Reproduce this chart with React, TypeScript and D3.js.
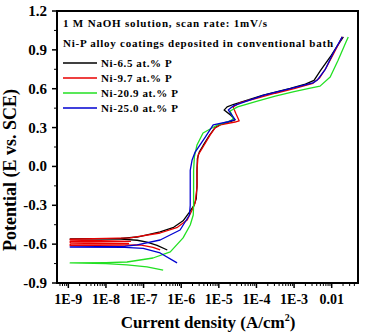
import React from "react";
import * as d3 from "d3";

// [log10(current density A/cm2), potential V vs SCE]
const ni65: [number, number][] = [
  [-6.37, -0.645], [-6.64, -0.61], [-6.91, -0.585], [-7.17, -0.57], [-7.6, -0.562], [-8.95, -0.56],
  [-7.6, -0.556], [-7.17, -0.545], [-6.56, -0.506], [-6.2, -0.47], [-5.95, -0.42], [-5.8, -0.36],
  [-5.66, -0.3], [-5.6, -0.25], [-5.58, -0.15], [-5.58, -0.03], [-5.57, 0.06], [-5.52, 0.11],
  [-5.42, 0.16], [-5.25, 0.24], [-5.1, 0.3], [-4.95, 0.325], [-4.7, 0.345], [-4.57, 0.36],
  [-4.7, 0.4], [-4.86, 0.435], [-4.78, 0.46], [-4.6, 0.48], [-4.2, 0.515], [-3.82, 0.551],
  [-3.1, 0.603], [-2.7, 0.635], [-2.47, 0.665], [-2.3, 0.74], [-2.04, 0.845], [-1.85, 0.93], [-1.69, 1.0],
];
const ni97: [number, number][] = [
  [-6.56, -0.645], [-6.75, -0.625], [-7.09, -0.606], [-7.5, -0.608], [-8.95, -0.612], [-8.95, -0.6],
  [-7.4, -0.595], [-8.95, -0.588], [-8.95, -0.578], [-7.35, -0.578], [-8.95, -0.568], [-8.95, -0.562],
  [-7.36, -0.552], [-6.56, -0.514], [-6.1, -0.47], [-5.84, -0.413], [-5.71, -0.336], [-5.63, -0.282],
  [-5.58, -0.159], [-5.58, -0.027], [-5.55, 0.088], [-5.42, 0.15], [-5.23, 0.243], [-5.1, 0.297],
  [-4.96, 0.32], [-4.57, 0.343], [-4.46, 0.352], [-4.55, 0.41], [-4.62, 0.459], [-4.45, 0.49],
  [-4.0, 0.525], [-3.5, 0.565], [-3.0, 0.6], [-2.5, 0.642], [-2.33, 0.68], [-2.15, 0.76],
  [-1.95, 0.87], [-1.72, 1.0],
];
const ni209: [number, number][] = [
  [-6.48, -0.8], [-6.91, -0.776], [-7.44, -0.76], [-8.0, -0.75], [-8.95, -0.745], [-8.0, -0.742],
  [-7.44, -0.738], [-6.75, -0.707], [-6.29, -0.66], [-5.95, -0.552], [-5.76, -0.452], [-5.68, -0.375],
  [-5.67, -0.3], [-5.67, -0.03], [-5.65, 0.073], [-5.58, 0.166], [-5.42, 0.258], [-5.04, 0.32],
  [-4.75, 0.345], [-4.62, 0.366], [-4.66, 0.4], [-4.7, 0.428], [-4.5, 0.46], [-4.0, 0.503],
  [-3.5, 0.543], [-3.0, 0.578], [-2.6, 0.603], [-2.31, 0.62], [-2.04, 0.69], [-1.83, 0.82],
  [-1.62, 0.96], [-1.56, 1.0],
];
const ni250: [number, number][] = [
  [-6.11, -0.745], [-6.56, -0.668], [-7.01, -0.632], [-7.5, -0.625], [-8.95, -0.622], [-7.5, -0.618],
  [-7.17, -0.606], [-6.56, -0.568], [-6.03, -0.491], [-5.78, -0.375], [-5.76, -0.3], [-5.76, -0.24],
  [-5.76, -0.03], [-5.71, 0.05], [-5.63, 0.111], [-5.36, 0.227], [-5.15, 0.32], [-4.75, 0.345],
  [-4.57, 0.362], [-4.66, 0.4], [-4.75, 0.436], [-4.6, 0.47], [-4.2, 0.51], [-3.8, 0.55],
  [-3.1, 0.6], [-2.5, 0.645], [-2.39, 0.665], [-2.17, 0.75], [-1.96, 0.876], [-1.72, 1.0],
];

const seriesNames = ["Ni-6.5 at.% P", "Ni-9.7 at.% P", "Ni-20.9 at.% P", "Ni-25.0 at.% P"];
const seriesData = [ni65, ni97, ni209, ni250];
const seriesColors = ["#000000", "#e80000", "#22e022", "#0000d0"];

const xTickValues = [1e-9, 1e-8, 1e-7, 1e-6, 1e-5, 1e-4, 1e-3, 1e-2];
const xTickLabels = ["1E-9", "1E-8", "1E-7", "1E-6", "1E-5", "1E-4", "1E-3", "0.01"];
const yTickValues = [1.2, 0.9, 0.6, 0.3, 0.0, -0.3, -0.6, -0.9];
const yMinorValues = [1.05, 0.75, 0.45, 0.15, -0.15, -0.45, -0.75];

const annotation1 = "1 M NaOH solution, scan rate: 1mV/s";
const annotation2 = "Ni-P alloy coatings deposited in conventional bath";

export default function App() {
  const L = 57, R = 358, T = 11, B = 283;
  const x = d3.scaleLog().domain([5e-10, 5e-2]).range([L, R]);
  const y = d3.scaleLinear().domain([-0.9, 1.2]).range([B, T]);
  const line = d3
    .line<[number, number]>()
    .x((d) => x(Math.pow(10, d[0])))
    .y((d) => y(d[1]));

  const minorX: number[] = [];
  for (let e = -10; e <= -2; e++) {
    for (let m = 2; m <= 9; m++) {
      const v = m * Math.pow(10, e);
      if (v > 5e-10 && v < 5e-2) minorX.push(v);
    }
  }
  const font = "'Liberation Serif', 'Times New Roman', serif";

  return (
    <svg width={365} height={336} style={{ position: "absolute", left: 0, top: 0, background: "#fff" }} fontFamily={font}>
      <rect x={0} y={0} width={365} height={336} fill="#fff" />
      <defs>
        <clipPath id="plot">
          <rect x={L} y={T} width={R - L} height={B - T} />
        </clipPath>
      </defs>
      <g clipPath="url(#plot)">
        {seriesData.map((s, i) => (
          <path key={i} d={line(s) || ""} fill="none" stroke={seriesColors[i]} strokeWidth={1.3} strokeLinejoin="round" />
        ))}
      </g>
      <rect x={L} y={T} width={R - L} height={B - T} fill="none" stroke="#000" strokeWidth={2} />
      {/* x axis ticks */}
      {xTickValues.map((v, i) => (
        <g key={"xt" + i}>
          <line x1={x(v)} x2={x(v)} y1={B} y2={B + 5} stroke="#000" strokeWidth={1.5} />
          <text x={x(v)} y={304} textAnchor="middle" fontSize={14} fontWeight="bold">
            {xTickLabels[i]}
          </text>
        </g>
      ))}
      {minorX.map((v, i) => (
        <line key={"xm" + i} x1={x(v)} x2={x(v)} y1={B} y2={B + 3} stroke="#000" strokeWidth={1} />
      ))}
      {/* y axis ticks */}
      {yTickValues.map((v, i) => (
        <g key={"yt" + i}>
          <line x1={L - 5} x2={L} y1={y(v)} y2={y(v)} stroke="#000" strokeWidth={1.5} />
          <text x={47} y={y(v) + 5} textAnchor="end" fontSize={15} fontWeight="bold">
            {d3.format(".1f")(v).replace("−", "-")}
          </text>
        </g>
      ))}
      {yMinorValues.map((v, i) => (
        <line key={"ym" + i} x1={L - 3} x2={L} y1={y(v)} y2={y(v)} stroke="#000" strokeWidth={1} />
      ))}
      {/* axis titles */}
      <text x={208} y={328} textAnchor="middle" fontSize={17} fontWeight="bold">
        Current density (A/cm<tspan dy={-7} fontSize={10}>2</tspan>
        <tspan dy={7}>)</tspan>
      </text>
      <text transform="translate(16,170) rotate(-90)" textAnchor="middle" fontSize={18} fontWeight="bold">
        Potential (E vs. SCE)
      </text>
      {/* annotations */}
      <text x={63} y={27} fontSize={11} fontWeight="bold" textLength={204} lengthAdjust="spacing">
        {annotation1}
      </text>
      <text x={63} y={47} fontSize={11} fontWeight="bold" textLength={270} lengthAdjust="spacing">
        {annotation2}
      </text>
      {seriesNames.map((n, i) => (
        <g key={"lg" + i}>
          <line x1={63} x2={97} y1={63 + i * 15} y2={63 + i * 15} stroke={seriesColors[i]} strokeWidth={1.3} />
          <text x={101} y={67 + i * 15} fontSize={11} fontWeight="bold" letterSpacing={0.6}>
            {n}
          </text>
        </g>
      ))}
    </svg>
  );
}
